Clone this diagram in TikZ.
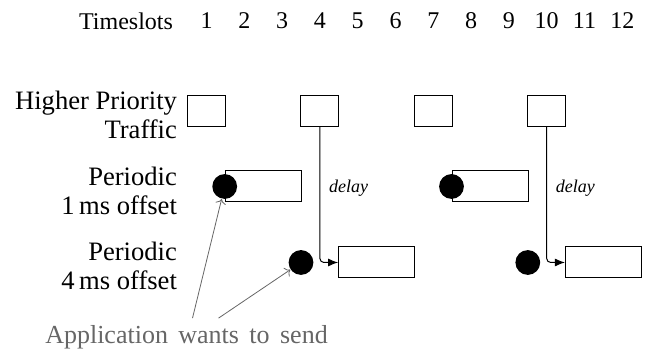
\documentclass[tikz,border=0pt]{standalone}
\usepackage{fontspec}
\setmainfont{Liberation Serif}
\newfontfamily\espacado[WordSpace=1.6]{Liberation Serif}
\usetikzlibrary{arrows.meta,positioning}
\newcommand{\slotx}[1]{206.5+37.8*(#1-1)}

\begin{document}
\begin{tikzpicture}[
  x=0.5pt,y=-0.5pt,
  font=\fontsize{12}{14.5}\selectfont,
  rotulo/.style={align=right,anchor=east,font=\fontsize{13.3}{14.5}\selectfont},
  quadro/.style={draw,line width=0.5pt,minimum height=15.5pt,inner sep=0pt},
  curto/.style={quadro,minimum width=19pt},
  longo/.style={quadro,minimum width=38pt},
  ponto/.style={circle,fill=black,minimum size=12.4pt,inner sep=0pt},
  atraso/.style={-{Latex[length=5pt,width=4pt]},line width=0.5pt,rounded corners=2pt},
  aviso/.style={->,black!60,line width=0.4pt}
]
  \useasboundingbox (0,0) rectangle (649,351);
  \node[anchor=east] (titulo) at (180,21) {Timeslots};
  \foreach \k in {1,...,12}
    \node (t\k) at ({\slotx{\k}},21) {\k};
  \node[rotulo] (hp) at (184,115) {Higher Priority\\Traffic};
  \node[rotulo] (p1) at (184,190.5) {Periodic\\1\,ms offset};
  \node[rotulo] (p4) at (184,265.5) {Periodic\\4\,ms offset};
  \foreach \k/\n in {1/a,4/b,7/c,10/d}
    \node[curto] (hp\n) at ({\slotx{\k}},111) {};
  \node[longo] (p1a) at ({\slotx{2.5}},186.5) {};
  \node[longo] (p1b) at ({\slotx{8.5}},186.5) {};
  \node[longo] (p4a) at ({\slotx{5.5}},262.5) {};
  \node[longo] (p4b) at ({\slotx{11.5}},262.5) {};
  \node[ponto] (d1a) at (p1a.west) {};
  \node[ponto] (d1b) at (p1b.west) {};
  \node[ponto] (d4a) at ({\slotx{3.5}},262.5) {};
  \node[ponto] (d4b) at ({\slotx{9.5}},262.5) {};
  \draw[atraso] (hpb.south) |- node[pos=0.225,right,xshift=1pt,font=\fontsize{9}{11}\selectfont\itshape]{delay} (p4a.west);
  \draw[atraso] (hpd.south) |- node[pos=0.225,right,xshift=1pt,font=\fontsize{9}{11}\selectfont\itshape]{delay} (p4b.west);
  \node[black!60,font=\espacado\fontsize{13}{15}\selectfont] (app) at (186.5,337) {Application wants to send};
  \draw[aviso] ([xshift=3pt]app.north) -- (d1a);
  \draw[aviso] ([xshift=16pt]app.north) -- (d4a);
\end{tikzpicture}
\end{document}
